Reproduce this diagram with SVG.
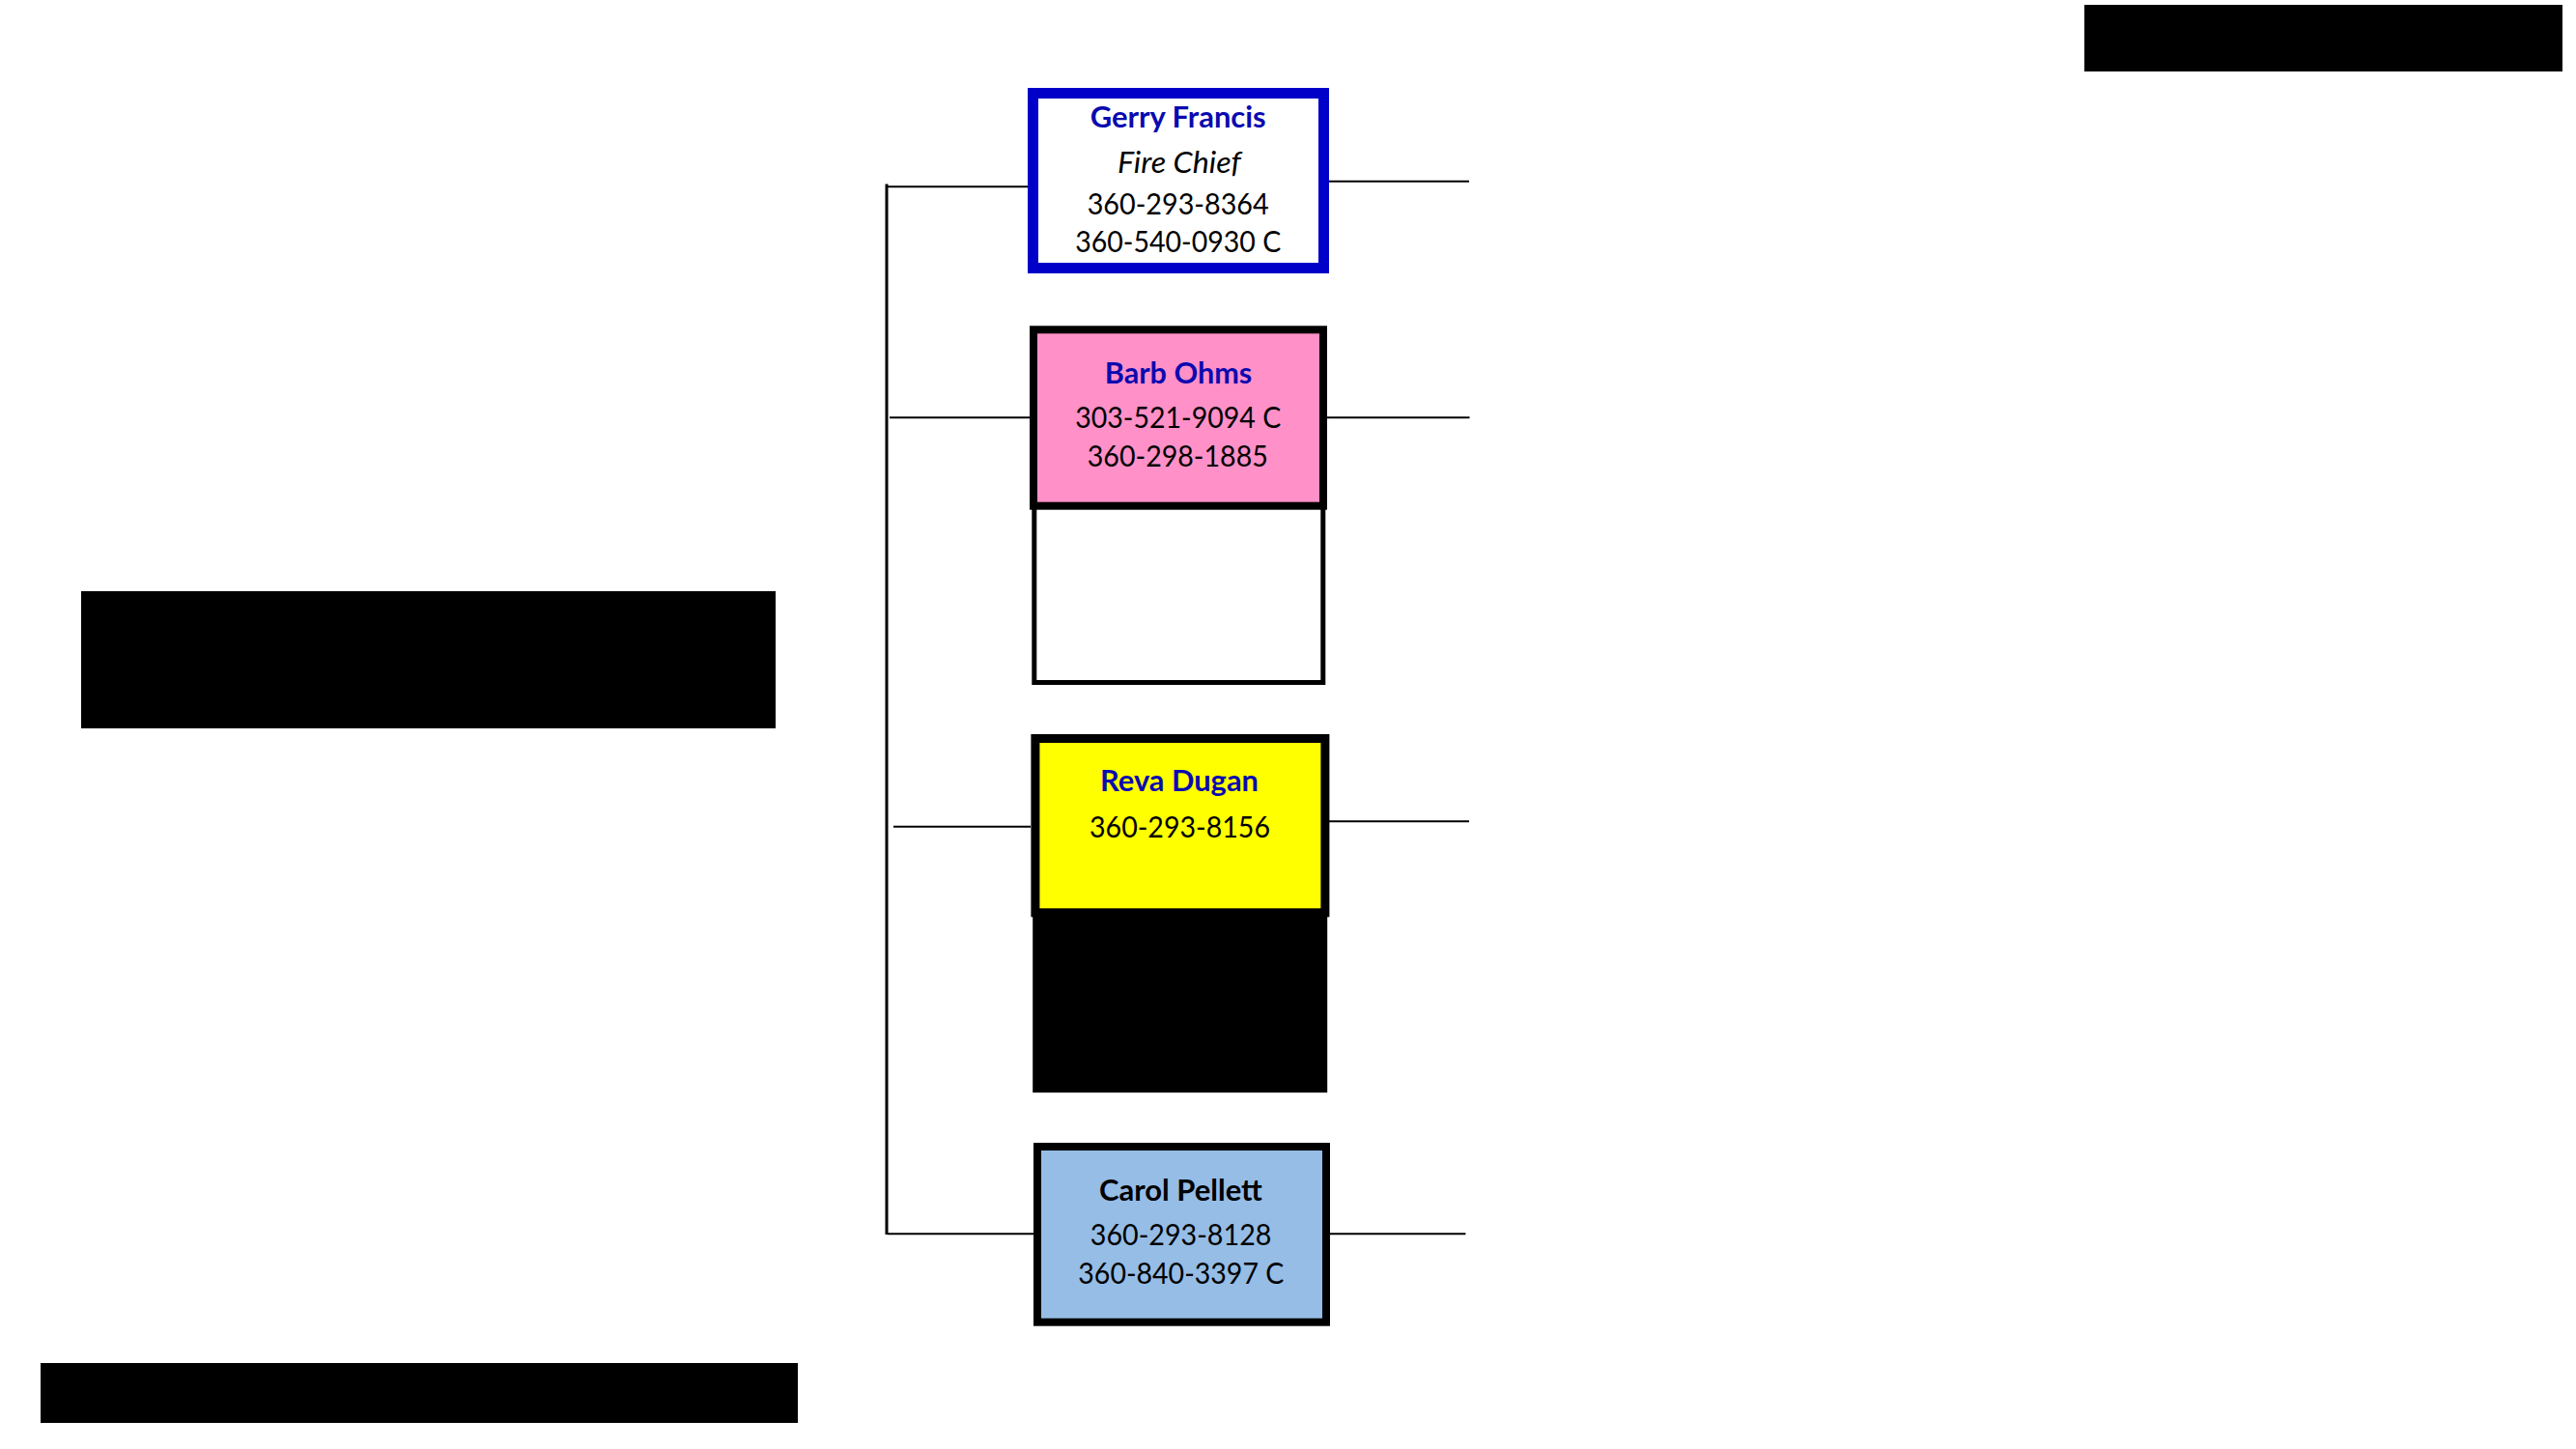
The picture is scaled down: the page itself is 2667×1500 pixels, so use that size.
<svg xmlns="http://www.w3.org/2000/svg" width="2667" height="1500" viewBox="0 0 2667 1500">
<style>
.t{font-family:Lato,"Liberation Sans",sans-serif;font-size:31px;text-anchor:middle;fill:#000}
.n{font-weight:bold;fill:#0A0AB0}
.nb{font-weight:bold;fill:#000}
.i{font-style:italic}
.c{stroke:#000;stroke-width:2;fill:none}
.v{stroke:#000;stroke-width:3;fill:none}
.red{fill:#000}
</style>
<rect x="0" y="0" width="2667" height="1500" fill="#fff"/>
<rect class="red" x="2158" y="5" width="495" height="69"/>
<rect class="red" x="84" y="612" width="719" height="142"/>
<rect class="red" x="42" y="1411" width="784" height="62"/>
<g id="connectors">
<line class="v" x1="918" y1="190.5" x2="918" y2="1278"/>
<line class="c" x1="919" y1="193.3" x2="1064" y2="193.3"/>
<line class="c" x1="1376" y1="187.7" x2="1521" y2="187.7"/>
<line class="c" x1="921" y1="432.3" x2="1066" y2="432.3"/>
<line class="c" x1="1374" y1="432.3" x2="1521.5" y2="432.3"/>
<line class="c" x1="925" y1="855.7" x2="1067" y2="855.7"/>
<line class="c" x1="1376" y1="850.3" x2="1521" y2="850.3"/>
<line class="c" x1="919" y1="1277.3" x2="1070" y2="1277.3"/>
<line class="c" x1="1377" y1="1277.3" x2="1517.4" y2="1277.3"/>
</g>
<g id="blank-box">
<rect x="1070.8" y="524.5" width="299" height="182" fill="#fff" stroke="#000" stroke-width="5"/>
</g>
<g id="black-box">
<rect class="red" x="1069.2" y="949" width="305" height="182"/>
</g>
<g id="gerry-francis">
<rect x="1069.5" y="96.5" width="301" height="181" fill="#fff" stroke="#0000C8" stroke-width="11"/>
<text class="t n" x="1219.7" y="131.7" textLength="182" lengthAdjust="spacingAndGlyphs">Gerry Francis</text>
<text class="t i" x="1220.9" y="179.3" textLength="128" lengthAdjust="spacingAndGlyphs">Fire Chief</text>
<text class="t" x="1219.7" y="222.3" textLength="188" lengthAdjust="spacingAndGlyphs">360-293-8364</text>
<text class="t" x="1219.7" y="261" textLength="213" lengthAdjust="spacingAndGlyphs">360-540-0930 C</text>
</g>
<g id="barb-ohms">
<rect x="1070" y="341.3" width="300" height="182.4" fill="#FF90C8" stroke="#000" stroke-width="8"/>
<text class="t n" x="1220" y="396.7" textLength="152.5" lengthAdjust="spacingAndGlyphs">Barb Ohms</text>
<text class="t" x="1219.7" y="443.3" textLength="213" lengthAdjust="spacingAndGlyphs">303-521-9094 C</text>
<text class="t" x="1219.3" y="483.3" textLength="187" lengthAdjust="spacingAndGlyphs">360-298-1885</text>
</g>
<g id="reva-dugan">
<rect x="1071.9" y="764.5" width="300" height="180.3" fill="#FFFF00" stroke="#000" stroke-width="9"/>
<text class="t n" x="1221" y="819" textLength="164" lengthAdjust="spacingAndGlyphs">Reva Dugan</text>
<text class="t" x="1221.5" y="866.7" textLength="187" lengthAdjust="spacingAndGlyphs">360-293-8156</text>
</g>
<g id="carol-pellett">
<rect x="1074" y="1187" width="299" height="181.7" fill="#95BDE6" stroke="#000" stroke-width="8"/>
<text class="t nb" x="1222.4" y="1242.7" textLength="169" lengthAdjust="spacingAndGlyphs">Carol Pellett</text>
<text class="t" x="1222.6" y="1288.7" textLength="187.6" lengthAdjust="spacingAndGlyphs">360-293-8128</text>
<text class="t" x="1222.8" y="1329" textLength="213" lengthAdjust="spacingAndGlyphs">360-840-3397 C</text>
</g>
</svg>
